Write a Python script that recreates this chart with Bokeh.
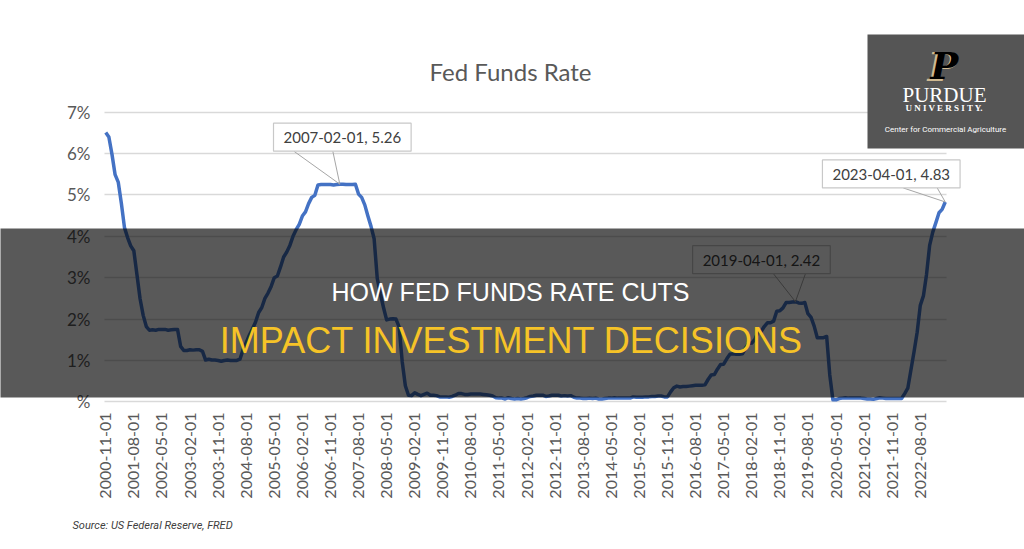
import math
from bokeh.plotting import figure
from bokeh.models import Range1d, FixedTicker, Label, BoxAnnotation, LinearAxis, Grid
from bokeh.embed import file_html
from bokeh.resources import INLINE

# ---------------- data (monthly effective Fed Funds rate, %) ----------------
rate_2000 = [6.51, 6.40]
rate_2001 = [5.98, 5.49, 5.31, 4.80, 4.21, 3.97, 3.77, 3.65, 3.07, 2.49, 2.09, 1.82]
rate_2002 = [1.73, 1.74, 1.73, 1.75, 1.75, 1.75, 1.73, 1.74, 1.75, 1.75, 1.34, 1.24]
rate_2003 = [1.24, 1.26, 1.25, 1.26, 1.26, 1.22, 1.01, 1.03, 1.01, 1.01, 1.00, 0.98]
rate_2004 = [1.00, 1.01, 1.00, 1.00, 1.00, 1.03, 1.26, 1.43, 1.61, 1.76, 1.93, 2.16]
rate_2005 = [2.28, 2.50, 2.63, 2.79, 3.00, 3.04, 3.26, 3.50, 3.62, 3.78, 4.00, 4.16]
rate_2006 = [4.29, 4.49, 4.59, 4.79, 4.94, 4.99, 5.24, 5.25, 5.25, 5.25, 5.25, 5.24]
rate_2007 = [5.25, 5.26, 5.26, 5.25, 5.25, 5.25, 5.26, 5.02, 4.94, 4.76, 4.49, 4.24]
rate_2008 = [3.94, 2.98, 2.61, 2.28, 1.98, 2.00, 2.01, 2.00, 1.81, 0.97, 0.39, 0.16]
rate_2009 = [0.15, 0.22, 0.18, 0.15, 0.18, 0.21, 0.16, 0.16, 0.15, 0.12, 0.12, 0.12]
rate_2010 = [0.11, 0.13, 0.16, 0.20, 0.20, 0.18, 0.18, 0.19, 0.19, 0.19, 0.19, 0.18]
rate_2011 = [0.17, 0.16, 0.14, 0.10, 0.09, 0.09, 0.07, 0.10, 0.08, 0.07, 0.08, 0.07]
rate_2012 = [0.08, 0.10, 0.13, 0.14, 0.16, 0.16, 0.16, 0.13, 0.14, 0.16, 0.16, 0.16]
rate_2013 = [0.14, 0.15, 0.14, 0.15, 0.11, 0.09, 0.09, 0.08, 0.08, 0.09, 0.08, 0.09]
rate_2014 = [0.07, 0.07, 0.08, 0.09, 0.09, 0.10, 0.09, 0.09, 0.09, 0.09, 0.09, 0.12]
rate_2015 = [0.11, 0.11, 0.11, 0.12, 0.12, 0.13, 0.13, 0.14, 0.14, 0.12, 0.12, 0.24]
rate_2016 = [0.34, 0.38, 0.36, 0.37, 0.37, 0.38, 0.39, 0.40, 0.40, 0.40, 0.41, 0.54]
rate_2017 = [0.65, 0.66, 0.79, 0.90, 0.91, 1.04, 1.15, 1.16, 1.15, 1.15, 1.16, 1.30]
rate_2018 = [1.41, 1.42, 1.51, 1.69, 1.70, 1.82, 1.91, 1.91, 1.95, 2.19, 2.20, 2.27]
rate_2019 = [2.40, 2.40, 2.41, 2.42, 2.39, 2.38, 2.40, 2.13, 2.04, 1.83, 1.55, 1.55]
rate_2020 = [1.55, 1.58, 0.65, 0.05, 0.05, 0.08, 0.09, 0.10, 0.09, 0.09, 0.09, 0.09]
rate_2021 = [0.09, 0.08, 0.07, 0.07, 0.06, 0.08, 0.10, 0.09, 0.08, 0.08, 0.08, 0.08]
rate_2022 = [0.08, 0.08, 0.20, 0.33, 0.77, 1.21, 1.68, 2.33, 2.56, 3.08, 3.78, 4.10]
rate_2023 = [4.33, 4.57, 4.65, 4.83]

rates = (rate_2000 + rate_2001 + rate_2002 + rate_2003 + rate_2004 + rate_2005
         + rate_2006 + rate_2007 + rate_2008 + rate_2009 + rate_2010 + rate_2011
         + rate_2012 + rate_2013 + rate_2014 + rate_2015 + rate_2016 + rate_2017
         + rate_2018 + rate_2019 + rate_2020 + rate_2021 + rate_2022 + rate_2023)

# category labels: one per month, starting 2000-11-01
dates = []
yr, mo = 2000, 11
for _ in rates:
    dates.append(f"{yr}-{mo:02d}-01")
    mo += 1
    if mo > 12:
        mo, yr = 1, yr + 1
idx = list(range(len(rates)))

x_tick_labels = ["2000-11-01", "2001-08-01", "2002-05-01", "2003-02-01", "2003-11-01",
                 "2004-08-01", "2005-05-01", "2006-02-01", "2006-11-01", "2007-08-01",
                 "2008-05-01", "2009-02-01", "2009-11-01", "2010-08-01", "2011-05-01",
                 "2012-02-01", "2012-11-01", "2013-08-01", "2014-05-01", "2015-02-01",
                 "2015-11-01", "2016-08-01", "2017-05-01", "2018-02-01", "2018-11-01",
                 "2019-08-01", "2020-05-01", "2021-02-01", "2021-11-01", "2022-08-01"]
y_ticks = [0, 1, 2, 3, 4, 5, 6, 7]
y_tick_labels = ["%", "1%", "2%", "3%", "4%", "5%", "6%", "7%"]

callout_dates = ["2007-02-01", "2019-04-01", "2023-04-01"]

chart_title = "Fed Funds Rate"
source_note = "Source: US Federal Reserve, FRED"
headline_1 = "HOW FED FUNDS RATE CUTS"
headline_2 = "IMPACT INVESTMENT DECISIONS"

# ---------------- layout ----------------
W, H = 1024, 549
# pixel box of the chart's plot area inside the page
FL, FR, FT, FB = 104, 946, 110, 403
X0, X1 = -0.4, 269.4
Y0, Y1 = -0.04, 7.04
ppx = (FR - FL) / (X1 - X0)
ppy = (FB - FT) / (Y1 - Y0)


def dx(px):
    return X0 + (px - FL) / ppx


def dy(py):
    return Y0 + (FB - py) / ppy


# the frame covers the whole page so that overlays are not clipped
p = figure(width=W, height=H, output_backend="svg", toolbar_location=None,
           x_range=Range1d(dx(0), dx(W)), y_range=Range1d(dy(H), dy(0)),
           x_axis_location=None, y_axis_location=None,
           min_border=0, min_border_left=0, min_border_right=0,
           min_border_top=0, min_border_bottom=0)
p.outline_line_color = None
p.background_fill_color = "white"
p.border_fill_color = "white"
p.title.visible = False
# drop the default grids
p.center = [r for r in p.center if not isinstance(r, Grid)]

# axes, pinned to the plot-area edges
yaxis = LinearAxis(ticker=FixedTicker(ticks=y_ticks), fixed_location=dx(FL))
yaxis.major_label_overrides = {t: l for t, l in zip(y_ticks, y_tick_labels)}
yaxis.major_label_text_font_size = "17px"
yaxis.major_label_standoff = 14
x_tick_pos = [dates.index(t) for t in x_tick_labels]
xaxis = LinearAxis(ticker=FixedTicker(ticks=x_tick_pos), fixed_location=Y0)
xaxis.major_label_overrides = {t: l for t, l in zip(x_tick_pos, x_tick_labels)}
xaxis.major_label_orientation = math.pi / 2
xaxis.major_label_text_font_size = "16px"
xaxis.major_label_standoff = 9
for ax in (xaxis, yaxis):
    ax.axis_line_color = None
    ax.major_tick_line_color = None
    ax.minor_tick_line_color = None
    ax.major_tick_out = 0
    ax.major_label_text_font = "Lato"
    ax.major_label_text_color = "#595959"
p.add_layout(yaxis, "left")
p.add_layout(xaxis, "below")

grid = Grid(dimension=1, ticker=yaxis.ticker, grid_line_color="#d9d9d9", grid_line_width=1.3)
try:
    grid.cross_bounds = (dx(FL), dx(FR))
    p.add_layout(grid)
except Exception:
    p.segment(x0=[dx(FL)] * len(y_ticks), y0=y_ticks, x1=[dx(FR)] * len(y_ticks), y1=y_ticks,
              line_color="#d9d9d9", line_width=1.3)

# series
p.line(idx, rates, line_color="#4472C4", line_width=3.5, line_join="round")

# callouts
callout_layout = {
    "2007-02-01": dict(ox=2.5, oy=47, bases=(-46, -7), by=33),
    "2019-04-01": dict(ox=-34, oy=42, bases=(-22, 10), by=28),
    "2023-04-01": dict(ox=-54, oy=28, bases=(-42, -8), by=14),
}
sx0, sy0, sx1, sy1 = [], [], [], []
for d in callout_dates:
    i = dates.index(d)
    v = rates[i]
    lay = callout_layout[d]
    for b in lay["bases"]:
        sx0.append(i + b / ppx)
        sy0.append(v + lay["by"] / ppy)
        sx1.append(i)
        sy1.append(v)
    p.add_layout(Label(x=i, y=v, x_offset=lay["ox"], y_offset=lay["oy"],
                       text=f"{d}, {v:.2f}", text_align="center", text_baseline="middle",
                       text_font="Lato", text_font_size="15px", text_color="#404040",
                       background_fill_color="white", border_line_color="#c8c8c8",
                       border_line_width=1.2, padding=(10, 5)))
p.segment(x0=sx0, y0=sy0, x1=sx1, y1=sy1, line_color="#a6a6a6", line_width=1)

# chart title and source
p.add_layout(Label(x=dx(510), y=dy(71), text=chart_title, text_align="center",
                   text_baseline="middle", text_font="Lato", text_font_size="24px",
                   text_color="#595959"))
p.add_layout(Label(x=dx(72), y=dy(525), text=source_note, text_align="left",
                   text_baseline="middle", text_font="Roboto",
                   text_font_style="italic", text_font_size="11px", text_color="#404040"))

# dark overlay band with headline
p.add_layout(BoxAnnotation(left=dx(-20), right=dx(W + 20), top=dy(228), bottom=dy(397),
                           fill_color="black", fill_alpha=0.65, line_color=None,
                           level="overlay"))
p.add_layout(Label(x=dx(510), y=dy(291), text=headline_1, text_align="center",
                   text_baseline="middle", text_font="Liberation Sans",
                   text_font_size="25px", text_color="white", level="overlay"))
p.add_layout(Label(x=dx(511), y=dy(340), text=headline_2, text_align="center",
                   text_baseline="middle", text_font="Liberation Sans",
                   text_font_size="36px", text_color="#F6C327", level="overlay"))

# logo block
p.add_layout(BoxAnnotation(left=dx(867), right=dx(W + 20), top=dy(34), bottom=dy(148),
                           fill_color="#555555", fill_alpha=1, line_color=None,
                           level="overlay"))
p.add_layout(Label(x=dx(942), y=dy(66), text="P", text_align="center",
                   text_baseline="middle", text_font="DejaVu Serif",
                   text_font_style="bold italic", text_font_size="40px",
                   text_color="#CFB991", level="overlay"))
p.add_layout(Label(x=dx(944), y=dy(65), text="P", text_align="center",
                   text_baseline="middle", text_font="DejaVu Serif",
                   text_font_style="bold italic", text_font_size="37px",
                   text_color="black", level="overlay"))
p.add_layout(Label(x=dx(944), y=dy(94), text="PURDUE", text_align="center",
                   text_baseline="middle", text_font="Liberation Serif",
                   text_font_size="21px", text_color="white", level="overlay"))
p.add_layout(Label(x=dx(944), y=dy(107), text="U N I V E R S I T Y.", text_align="center",
                   text_baseline="middle", text_font="Liberation Serif",
                   text_font_style="bold", text_font_size="9px", text_color="white",
                   level="overlay"))
p.add_layout(Label(x=dx(945), y=dy(129),
                   text="Center for Commercial Agriculture", text_align="center",
                   text_baseline="middle", text_font="Roboto",
                   text_font_size="8px", text_color="white", level="overlay"))

open("out.html", "w").write(file_html(p, INLINE))
